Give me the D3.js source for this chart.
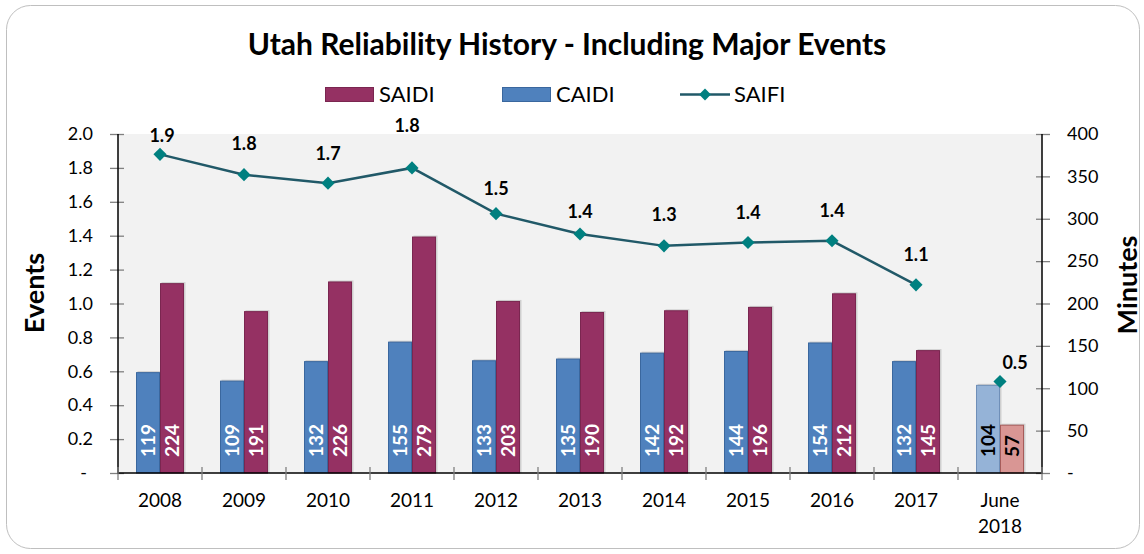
<!DOCTYPE html>
<html>
<head>
<meta charset="utf-8">
<script src="https://cdn.jsdelivr.net/npm/d3@7"></script>
<style>
  body { margin: 0; background: #fff; }
  svg text { font-family: Lato, "Open Sans", sans-serif; }
</style>
</head>
<body>
<div id="chart"></div>
<script>
// chart data
var years = ["2008", "2009", "2010", "2011", "2012", "2013", "2014", "2015", "2016", "2017", "June 2018"];
var caidi = [119, 109, 132, 155, 133, 135, 142, 144, 154, 132, 104];
var saidi = [224, 191, 226, 279, 203, 190, 192, 196, 212, 145, 57];
var saifi = [1.88, 1.76, 1.71, 1.80, 1.53, 1.41, 1.34, 1.36, 1.37, 1.11, 0.54];
var leftTicks = [0, 0.2, 0.4, 0.6, 0.8, 1.0, 1.2, 1.4, 1.6, 1.8, 2.0];
var rightTicks = [0, 50, 100, 150, 200, 250, 300, 350, 400];

// label nudges (the original labels were hand placed)
var labelDy = [-19, -31, -30, -42, -25, -22, -31, -30, -30, -30, -19];
var labelDx = [2, 0, 0, -5, 0, 0, 0, 0, 0, 0, 15];

var W = 1144, H = 554;
var plotL = 118, plotR = 1042, plotT = 134, plotB = 473;

var svg = d3.select("#chart").append("svg")
  .attr("width", W)
  .attr("height", H);

// outer frame
svg.append("rect")
  .attr("x", 6.5).attr("y", 5.5)
  .attr("width", 1133).attr("height", 543)
  .attr("rx", 24).attr("ry", 24)
  .style("fill", "#fff")
  .style("stroke", "#bfbfbf")
  .style("stroke-width", 1);

// plot area
svg.append("rect")
  .attr("x", plotL).attr("y", plotT)
  .attr("width", plotR - plotL).attr("height", plotB - plotT)
  .style("fill", "#f2f2f2");

var x = d3.scaleBand()
  .domain(years)
  .range([plotL, plotR]);

var yL = d3.scaleLinear().domain([0, 2]).range([plotB, plotT]);
var yR = d3.scaleLinear().domain([0, 400]).range([plotB, plotT]);

var barW = 24;
var last = years[years.length - 1];

// title
svg.append("text")
  .attr("x", 567).attr("y", 55)
  .attr("text-anchor", "middle")
  .style("font-size", "30px")
  .style("font-weight", "bold")
  .style("fill", "#000")
  .text("Utah Reliability History - Including Major Events");

// legend
var lg = svg.append("g").style("font-size", "22px");
lg.append("rect").attr("x", 325.5).attr("y", 87.5).attr("width", 48).attr("height", 14)
  .style("fill", "#953163").style("stroke", "#7a2650");
lg.append("text").attr("x", 379).attr("y", 102).text("SAIDI");
lg.append("rect").attr("x", 502.5).attr("y", 87.5).attr("width", 48).attr("height", 14)
  .style("fill", "#4f81bd").style("stroke", "#3a679e");
lg.append("text").attr("x", 556).attr("y", 102).text("CAIDI");
lg.append("line").attr("x1", 680).attr("x2", 730).attr("y1", 94.5).attr("y2", 94.5)
  .style("stroke", "#215968").style("stroke-width", 2.5);
lg.append("path").attr("d", d3.symbol().type(d3.symbolDiamond2).size(90)())
  .attr("transform", "translate(705,94.5)")
  .style("fill", "#008080");
lg.append("text").attr("x", 734).attr("y", 102).text("SAIFI");

// bars
var g = svg.append("g");

// faint shadow behind the bars
function shadows(vals, off) {
  g.selectAll(null)
    .data(vals)
    .enter().append("rect")
      .attr("x", function(d, i) { return x(years[i]) + x.bandwidth() / 2 + off + 1.5; })
      .attr("y", function(d) { return yR(d) - 1; })
      .attr("width", barW)
      .attr("height", function(d) { return plotB - yR(d) + 1; })
      .style("fill", "#cfcfcf");
}
shadows(caidi, -barW);
shadows(saidi, 0);

g.selectAll(".caidi")
  .data(caidi)
  .enter().append("rect")
    .attr("class", "caidi")
    .attr("x", function(d, i) { return x(years[i]) + x.bandwidth() / 2 - barW + 0.5; })
    .attr("y", function(d) { return yR(d) + 0.5; })
    .attr("width", barW - 1)
    .attr("height", function(d) { return plotB - yR(d) - 0.5; })
    .style("fill", function(d, i) { return years[i] == last ? "#95b3d7" : "#4f81bd"; })
    .style("stroke", function(d, i) { return years[i] == last ? "#6f8fb8" : "#3a679e"; });

g.selectAll(".saidi")
  .data(saidi)
  .enter().append("rect")
    .attr("class", "saidi")
    .attr("x", function(d, i) { return x(years[i]) + x.bandwidth() / 2 + 0.5; })
    .attr("y", function(d) { return yR(d) + 0.5; })
    .attr("width", barW - 1)
    .attr("height", function(d) { return plotB - yR(d) - 0.5; })
    .style("fill", function(d, i) { return years[i] == last ? "#d99694" : "#953163"; })
    .style("stroke", function(d, i) { return years[i] == last ? "#a65c5a" : "#7a2650"; });

// bar value labels, rotated
function barLabels(vals, off) {
  g.selectAll(null)
    .data(vals)
    .enter().append("text")
      .attr("transform", function(d, i) {
        var cx = x(years[i]) + x.bandwidth() / 2 + off;
        return "translate(" + cx + "," + (plotB - 16) + ") rotate(-90)";
      })
      .attr("dy", "0.36em")
      .style("font-size", "19px")
      .style("font-weight", "bold")
      .style("fill", function(d, i) { return years[i] == last ? "#000" : "#fff"; })
      .text(function(d) { return d; });
}
barLabels(caidi, -barW / 2);
barLabels(saidi, barW / 2);

// SAIFI line
var line = d3.line()
  .x(function(d, i) { return x(years[i]) + x.bandwidth() / 2; })
  .y(function(d) { return yL(d); });

svg.append("path")
  .datum(saifi.slice(0, 10))
  .attr("d", line)
  .style("fill", "none")
  .style("stroke", "#215968")
  .style("stroke-width", 2.5);

svg.selectAll(".pt")
  .data(saifi)
  .enter().append("path")
    .attr("class", "pt")
    .attr("d", d3.symbol().type(d3.symbolDiamond2).size(110)())
    .attr("transform", function(d, i) {
      return "translate(" + (x(years[i]) + x.bandwidth() / 2) + "," + yL(d) + ")";
    })
    .style("fill", "#008080");

svg.selectAll(".ptlabel")
  .data(saifi)
  .enter().append("text")
    .attr("x", function(d, i) { return x(years[i]) + x.bandwidth() / 2 + labelDx[i]; })
    .attr("y", function(d, i) { return yL(d) + labelDy[i]; })
    .attr("dy", "0.36em")
    .attr("text-anchor", "middle")
    .style("font-size", "18px")
    .style("font-weight", "bold")
    .text(function(d) { return d3.format(".1f")(d); });

// axes
var axL = svg.append("g")
  .attr("transform", "translate(" + plotL + ",0)")
  .call(d3.axisLeft(yL).tickValues(leftTicks).tickSize(0)
    .tickFormat(function(d) { return d == 0 ? "-" : d3.format(".1f")(d); }));
var axR = svg.append("g")
  .attr("transform", "translate(" + plotR + ",0)")
  .call(d3.axisRight(yR).tickValues(rightTicks).tickSize(0)
    .tickFormat(function(d) { return d == 0 ? "-" : d; }));

[axL, axR].forEach(function(ax) {
  ax.select(".domain").remove();
  ax.selectAll("text").style("font-size", "18px").style("font-family", "Lato, sans-serif").style("fill", "#000");
});
axL.selectAll("text").attr("x", -25);
axL.selectAll("text").filter(function(d) { return d == 0; }).attr("x", -31);
axR.selectAll("text").attr("x", 25);

// crossing tick marks
axL.selectAll(".tick").append("line").attr("x1", -8).attr("x2", 6)
  .style("stroke", "#808080").style("stroke-width", 1.3);
axR.selectAll(".tick").append("line").attr("x1", -6).attr("x2", 8)
  .style("stroke", "#808080").style("stroke-width", 1.3);

svg.append("line").attr("x1", plotL).attr("x2", plotL).attr("y1", plotT).attr("y2", plotB + 1)
  .style("stroke", "#000").style("stroke-width", 1.5);
svg.append("line").attr("x1", plotR).attr("x2", plotR).attr("y1", plotT).attr("y2", plotB + 1)
  .style("stroke", "#000").style("stroke-width", 1.5);
svg.append("line").attr("x1", plotL).attr("x2", plotR).attr("y1", plotB).attr("y2", plotB)
  .style("stroke", "#000").style("stroke-width", 1.5);

// category boundary ticks
var bounds = years.map(function(d) { return x(d); }).concat([plotR]);
svg.selectAll(".xtick")
  .data(bounds)
  .enter().append("line")
    .attr("x1", function(d) { return d; }).attr("x2", function(d) { return d; })
    .attr("y1", plotB - 6).attr("y2", plotB + 7)
    .style("stroke", "#808080").style("stroke-width", 1.3);

// category labels
var xl = svg.append("g").style("font-size", "19px");
years.forEach(function(d) {
  var parts = d.split(" ");
  var t = xl.append("text")
    .attr("x", x(d) + x.bandwidth() / 2)
    .attr("y", 507)
    .attr("text-anchor", "middle");
  parts.forEach(function(p, j) {
    t.append("tspan")
      .attr("x", x(d) + x.bandwidth() / 2)
      .attr("dy", j == 0 ? 0 : 26)
      .text(p);
  });
});

// axis titles
svg.append("text")
  .attr("transform", "translate(44,293) rotate(-90)")
  .attr("text-anchor", "middle")
  .style("font-size", "27px")
  .style("font-weight", "bold")
  .text("Events");
svg.append("text")
  .attr("transform", "translate(1137,285) rotate(-90)")
  .attr("text-anchor", "middle")
  .style("font-size", "27px")
  .style("font-weight", "bold")
  .text("Minutes");
</script>
</body>
</html>
